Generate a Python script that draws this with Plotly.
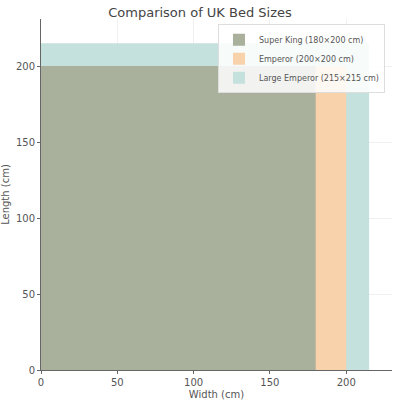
import plotly.graph_objects as go

# bed sizes in cm
bed_names = ["Super King (180×200 cm)", "Emperor (200×200 cm)", "Large Emperor (215×215 cm)"]
widths = [180, 200, 215]
lengths = [200, 200, 215]
colors = ["#a9b09b", "#f8d2ab", "#c5e1dd"]

fig = go.Figure()

# draw biggest first so the smaller beds sit on top
for i in reversed(range(len(bed_names))):
    fig.add_trace(go.Bar(
        x=[widths[i] / 2], y=[lengths[i]], width=[widths[i]], base=0,
        name=bed_names[i], marker=dict(color=colors[i], line=dict(width=0)),
        legendrank=i + 1,
    ))

fig.update_layout(
    width=400, height=400,
    barmode="overlay",
    plot_bgcolor="white", paper_bgcolor="white",
    font=dict(family="DejaVu Sans", color="#555555", size=10),
    title=dict(text="Comparison of UK Bed Sizes", x=0.5, xanchor="center", y=0.97, yanchor="middle",
               font=dict(size=13, color="#444444")),
    margin=dict(l=41, r=8, t=19, b=30),
    legend=dict(x=0.98, y=0.985, xanchor="right", yanchor="top", bgcolor="rgba(255,255,255,0.85)",
                bordercolor="#dddddd", borderwidth=1, font=dict(size=8, color="#555555"),
                tracegroupgap=0, itemwidth=30, itemsizing="constant"),
)
fig.update_xaxes(range=[0, 230], tickvals=[0, 50, 100, 150, 200], showline=True, linecolor="#666666",
                 ticks="outside", ticklen=3, tickcolor="#666666", showgrid=True, gridcolor="#f0f0f0",
                 zeroline=False, automargin=False,
                 title=dict(text="Width (cm)", font=dict(size=10)))
fig.update_yaxes(range=[0, 231], tickvals=[0, 50, 100, 150, 200], showline=True, linecolor="#666666",
                 ticks="outside", ticklen=3, tickcolor="#666666", showgrid=True, gridcolor="#f0f0f0",
                 zeroline=False, automargin=False,
                 title=dict(text="Length (cm)", font=dict(size=10)))

# browser default body margin pushes the figure 8px in
fig.write_html("out.html", config={"displayModeBar": False},
               post_script="document.body.style.margin='0';")
